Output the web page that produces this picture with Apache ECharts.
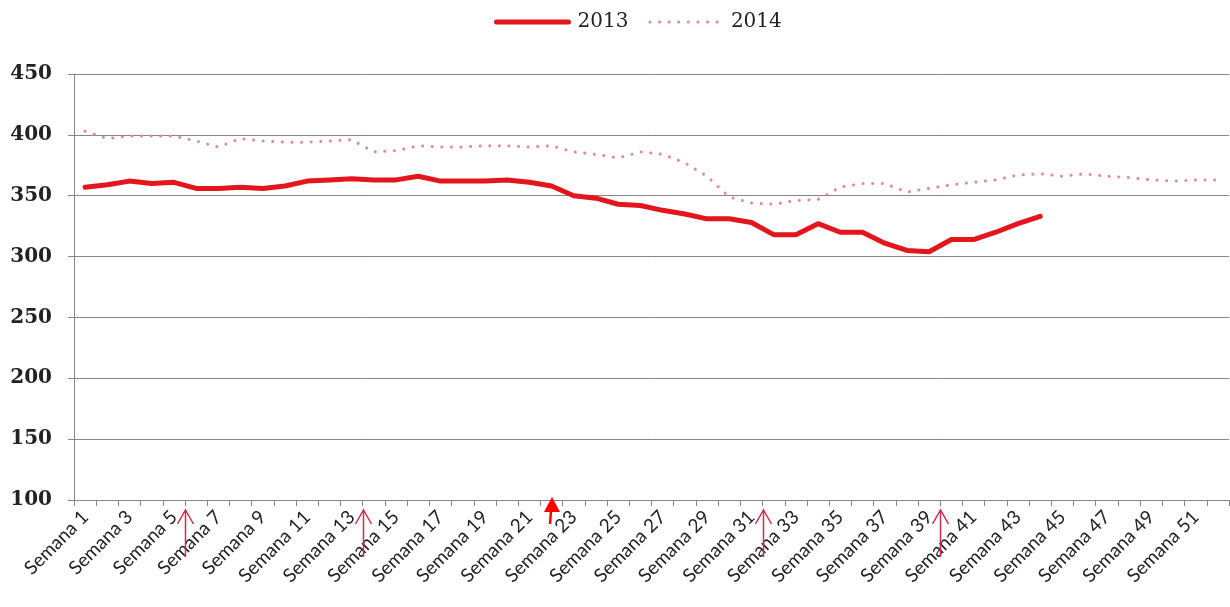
<!DOCTYPE html>
<html><head><meta charset="utf-8">
<script src="https://cdn.jsdelivr.net/npm/echarts@6/dist/echarts.min.js"></script>
<style>html,body{margin:0;padding:0;background:#fff}#c{width:1230px;height:607px}</style>
</head><body><div id="c"></div>
<script>
var weeks = [];
for (var i = 1; i <= 52; i++) weeks.push('Semana ' + i);
var series2013 = [357, 359, 362, 360, 361, 356, 356, 357, 356, 358, 362, 363, 364, 363, 363, 366,
  362, 362, 362, 363, 361, 358, 350, 348, 343, 342, 338, 335, 331, 331, 328, 318, 318, 327,
  320, 320, 311, 305, 304, 314, 314, 320, 327, 333];
var series2014 = [403, 397, 399, 399, 399, 395, 390, 397, 395, 394, 394, 395, 396, 386, 387, 391,
  390, 390, 391, 391, 390, 391, 386, 384, 381, 386, 384, 377, 366, 349, 344, 343, 346, 347,
  357, 360, 360, 353, 356, 359, 361, 363, 367, 368, 366, 368, 366, 365, 363, 362, 363, 363];
var yTicks = [100, 150, 200, 250, 300, 350, 400, 450];
var seriesNames = ['2013', '2014'];
// annotation arrows: week positions (boundaries) and filled arrow week
var openArrowWeeks = [5.5, 13.5, 31.5, 39.5];
var filledArrowWeeks = [22];

var chart = echarts.init(document.getElementById('c'));
chart.setOption({
  animation: false,
  grid: {left: 74, right: 1, top: 74, bottom: 107},
  legend: {
    top: 7, left: 489, itemWidth: 72, itemHeight: 14, itemGap: 20,
    itemStyle: {opacity: 0},
    textStyle: {fontFamily: 'DejaVu Serif', fontSize: 20, color: '#222', padding: [0, 0, 0, 4]},
    data: [
      {name: seriesNames[0], lineStyle: {width: 5, color: '#e3161d'}},
      {name: seriesNames[1], lineStyle: {width: 3, color: '#e08a94', type: [0.1, 9.5], cap: 'round'}}
    ]
  },
  xAxis: {
    type: 'category', data: weeks, boundaryGap: true,
    axisLine: {lineStyle: {color: '#868686', width: 1}},
    axisTick: {show: true, interval: 0, length: 6, lineStyle: {color: '#868686'}},
    axisLabel: {interval: 1, rotate: 45, margin: 14, fontFamily: 'Lato', fontSize: 19, color: '#222'}
  },
  yAxis: {
    type: 'value', min: yTicks[0], max: yTicks[yTicks.length - 1], interval: 50,
    axisLine: {show: true, lineStyle: {color: '#868686', width: 1}},
    axisTick: {show: true, length: 6, lineStyle: {color: '#868686'}},
    splitLine: {lineStyle: {color: '#868686', width: 1}},
    axisLabel: {margin: 22, fontFamily: 'DejaVu Serif', fontWeight: 'bold', fontSize: 20, color: '#222'}
  },
  series: [
    {name: seriesNames[0], type: 'line', data: series2013, symbol: 'none',
     lineStyle: {color: '#e3161d', width: 5, join: 'round', cap: 'round'},
     itemStyle: {color: '#e3161d'}},
    {name: seriesNames[1], type: 'line', data: series2014, symbol: 'none',
     lineStyle: {color: '#e08a94', width: 3, type: [0.1, 9.5], cap: 'round'},
     itemStyle: {color: '#e08a94'}}
  ]
});

function xAt(w) {
  var lo = Math.floor(w), hi = Math.ceil(w);
  var pl = chart.convertToPixel({xAxisIndex: 0}, lo - 1);
  var ph = chart.convertToPixel({xAxisIndex: 0}, hi - 1);
  return pl + (ph - pl) * (w - lo);
}
var y0 = chart.convertToPixel({yAxisIndex: 0}, yTicks[0]);
var elements = [];
openArrowWeeks.forEach(function (w) {
  var x = Math.round(xAt(w)) + 0.5;
  elements.push({type: 'line', shape: {x1: x, y1: y0 + 10, x2: x, y2: y0 + 57},
    style: {stroke: '#c8304a', lineWidth: 1.5}, z: 100});
  elements.push({type: 'polyline', shape: {points: [[x - 8, y0 + 24], [x, y0 + 10], [x + 8, y0 + 24]]},
    style: {stroke: '#c8304a', lineWidth: 1.5, fill: null}, z: 100});
});
filledArrowWeeks.forEach(function (w) {
  var x = Math.round(xAt(w));
  elements.push({type: 'polygon', shape: {points: [[x, y0 - 3], [x - 8, y0 + 12], [x + 8, y0 + 12]]},
    style: {fill: '#ff0000'}, z: 100});
  elements.push({type: 'line', shape: {x1: x - 1, y1: y0 + 11, x2: x - 2, y2: y0 + 24},
    style: {stroke: '#ff0000', lineWidth: 2.5}, z: 100});
});
chart.setOption({graphic: {elements: elements}});
</script>
</body></html>
